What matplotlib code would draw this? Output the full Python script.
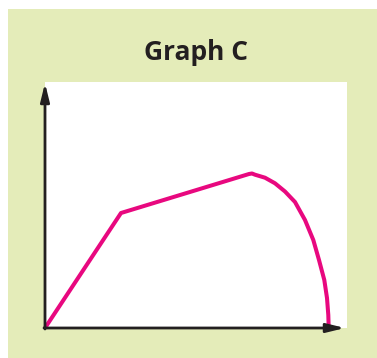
import matplotlib
matplotlib.use("Agg")
import matplotlib.pyplot as plt
from matplotlib.patches import Rectangle

# Data (x, y in arbitrary units)
curve_x = [0, 76, 204, 207, 210, 220, 230, 240, 250, 260, 268.3, 274, 279.3, 282, 283.3, 283.7]
curve_y = [0, 115, 154, 154.5, 153.3, 150.3, 144.7, 136.5, 126, 108, 88, 68, 48, 30, 13, 0]
title = "Graph C"

W, H = 377, 358
fig = plt.figure(figsize=(W / 100, H / 100), dpi=100)
fig.patch.set_facecolor("white")
fig.patches.append(Rectangle((8 / W, 0), 1 - 8 / W, 1 - 9 / H, transform=fig.transFigure,
                             facecolor="#e4ecb9", edgecolor="none", zorder=-10))

ax = fig.add_axes([45 / W, 1 - 328 / H, (347 - 45) / W, (328 - 82) / H])
ax.set_zorder(5)
ax.set_facecolor("white")
ax.set_xlim(0, 302)
ax.set_ylim(0, 246)
for s in ax.spines.values():
    s.set_visible(False)
ax.set_xticks([])
ax.set_yticks([])

ax.plot(curve_x, curve_y, color="#e8087f", lw=2.9, solid_capstyle="butt",
        solid_joinstyle="round", zorder=3, clip_on=False)

axis_col = "#231f20"
ap = dict(arrowstyle="-|>,head_length=0.9,head_width=0.22", color=axis_col, lw=2.0,
          shrinkA=0, shrinkB=0, mutation_scale=12)
ax.annotate("", xy=(300, 0), xytext=(-1, 0), arrowprops=ap, annotation_clip=False, zorder=4)
ax.annotate("", xy=(0, 245), xytext=(0, -1), arrowprops=ap, annotation_clip=False, zorder=4)

fig.text(196 / W, 1 - 52 / H, title, ha="center", va="center", fontsize=19,
         fontweight="bold", family="Open Sans", color="#231f20")

fig.savefig("out.png", dpi=100, facecolor=fig.get_facecolor())
